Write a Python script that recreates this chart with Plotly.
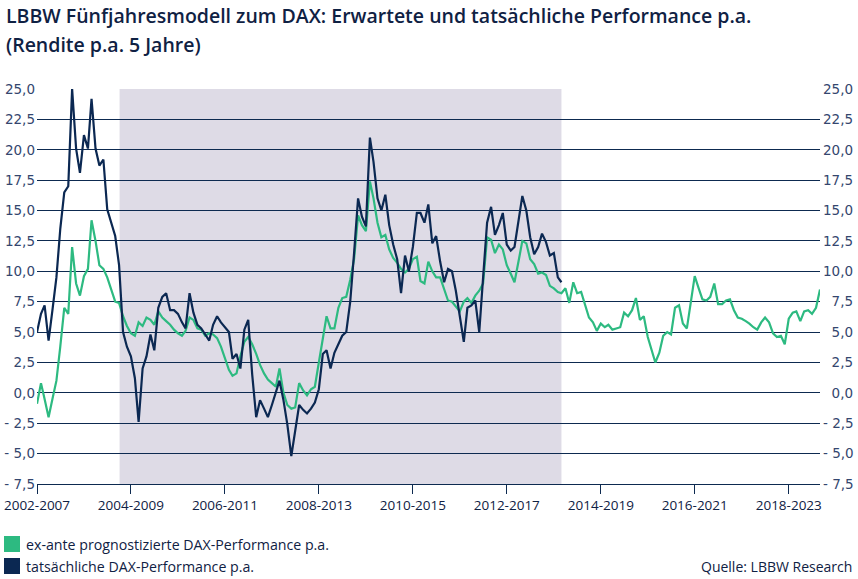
import pandas as pd
import plotly.graph_objects as go

# ---- data (monthly, 5-year window start) ----
START = "2002-01-01"
green_vals = [
    -0.9, 0.8, -0.5, -2.0, -0.5, 1.0, 3.8, 7.0, 6.5, 12.0, 9.0, 8.0,
    9.6, 10.2, 14.2, 12.5, 10.5, 10.2, 9.5, 8.5, 7.5, 7.4, 6.3, 5.5,
    4.9, 4.7, 5.8, 5.5, 6.2, 6.0, 5.6, 6.7, 6.2, 5.9, 5.6, 5.2,
    4.9, 4.7, 5.1, 6.2, 6.0, 5.3, 5.2, 4.7, 4.9, 4.8, 4.5, 3.8,
    2.8, 1.9, 1.4, 1.6, 3.0, 4.2, 4.6, 4.0, 3.2, 2.3, 1.6, 1.1,
    0.8, 0.5, 2.0, 0.0, -1.0, -1.3, -1.2, 0.8, 0.2, -0.2, 0.3, 0.5,
    2.5, 4.4, 6.3, 5.3, 5.3, 7.0, 7.8, 7.9, 9.3, 11.0, 14.6, 13.8,
    13.3, 17.4, 16.0, 14.0, 12.8, 13.0, 11.8, 11.1, 10.7, 10.2, 9.9, 10.2,
    11.0, 11.2, 9.2, 9.0, 10.8, 10.0, 9.5, 9.5, 8.6, 7.6, 7.5, 7.1,
    6.7, 7.5, 7.8, 7.4, 8.0, 8.4, 9.0, 12.8, 12.6, 11.5, 12.2, 11.8,
    10.5, 9.8, 9.1, 10.8, 12.5, 12.3, 11.0, 10.6, 9.8, 9.9, 9.7, 8.8,
    8.6, 8.3, 8.2, 8.6, 7.4, 9.1, 8.2, 8.3, 7.2, 6.2, 5.8, 5.1,
    5.7, 5.4, 5.6, 5.2, 5.3, 5.4, 6.6, 6.3, 6.8, 7.8, 6.0, 6.3,
    4.6, 3.4, 2.5, 3.3, 4.7, 5.0, 4.8, 7.0, 7.2, 5.7, 5.3, 7.4,
    9.6, 8.6, 7.7, 7.6, 7.9, 9.0, 7.3, 7.3, 7.6, 7.7, 6.8, 6.2,
    6.1, 5.9, 5.7, 5.4, 5.2, 5.8, 6.2, 5.8, 4.9, 4.6, 4.7, 4.0,
    6.1, 6.6, 6.7, 5.9, 6.7, 6.8, 6.5, 7.0, 8.5,
]
dark_vals = [
    5.0, 6.5, 7.2, 4.3, 6.8, 9.5, 13.5, 16.5, 17.0, 25.0, 20.1, 18.1,
    21.2, 20.1, 24.2, 20.1, 18.7, 19.2, 15.1, 14.0, 12.9, 10.5, 5.0, 3.8,
    3.0, 1.2, -2.4, 2.0, 3.0, 4.8, 3.5, 7.0, 7.9, 8.2, 6.8, 6.8,
    6.5, 5.8, 5.3, 8.2, 6.6, 5.6, 5.3, 4.8, 4.3, 5.6, 6.3, 5.8,
    5.4, 5.0, 2.8, 3.2, 2.0, 5.2, 6.0, 1.5, -2.0, -0.6, -1.3, -2.0,
    -1.0, 0.0, 1.0, -0.6, -2.6, -5.2, -3.3, -1.0, -1.4, -1.7, -1.3, -0.8,
    0.3, 3.2, 3.5, 2.0, 3.3, 4.0, 4.7, 5.0, 7.5, 11.5, 16.0, 14.5,
    13.7, 21.0, 19.0, 16.0, 15.0, 16.3, 13.8, 12.2, 11.0, 8.2, 11.3, 10.0,
    12.0, 14.8, 14.8, 14.0, 15.5, 12.3, 12.9, 10.8, 9.1, 10.2, 10.0, 8.4,
    6.2, 4.2, 7.0, 7.2, 7.6, 5.0, 9.5, 14.0, 15.3, 13.0, 13.8, 14.8,
    12.2, 11.7, 12.0, 14.3, 16.2, 15.0, 12.8, 11.4, 12.0, 13.1, 12.4, 11.3,
    11.5, 9.5, 9.1,
]
shade_period = ["2003-10-05", "2013-03-01"]
tick_dates = ["2002-01-01", "2004-01-01", "2006-01-01", "2008-01-01", "2010-01-01",
              "2012-01-01", "2014-01-01", "2016-01-01", "2018-01-01"]
tick_labels = ["2002-2007", "2004-2009", "2006-2011", "2008-2013", "2010-2015",
               "2012-2017", "2014-2019", "2016-2021", "2018-2023"]
y_ticks = [-7.5, -5.0, -2.5, 0.0, 2.5, 5.0, 7.5, 10.0, 12.5, 15.0, 17.5, 20.0, 22.5, 25.0]
y_labels = ["- 7,5", "- 5,0", "- 2,5", "0,0", "2,5", "5,0", "7,5", "10,0",
            "12,5", "15,0", "17,5", "20,0", "22,5", "25,0"]
y_labels_right = [("\u2007" + t) if len(t) == 3 else t for t in y_labels]

series_names = ["ex-ante prognostizierte DAX-Performance p.a.", "tatsächliche DAX-Performance p.a."]
title_lines = ["LBBW Fünfjahresmodell zum DAX: Erwartete und tatsächliche Performance p.a.",
               "(Rendite p.a. 5 Jahre)"]
source_text = "Quelle: LBBW Research"

GREEN = "#2dba81"
NAVY = "#0b2852"
SHADE = "#dedbe6"
GRID = "#0d2a50"
LABEL = "#34466e"
TEXT = "#0f2143"

green_dates = pd.date_range(START, periods=len(green_vals), freq="MS")
dark_dates = pd.date_range(START, periods=len(dark_vals), freq="MS")

fig = go.Figure()
fig.add_trace(go.Scatter(x=green_dates, y=green_vals, mode="lines", name=series_names[0],
                         line=dict(color=GREEN, width=2.2), showlegend=False))
fig.add_trace(go.Scatter(x=dark_dates, y=dark_vals, mode="lines", name=series_names[1],
                         line=dict(color=NAVY, width=2.2), showlegend=False))
fig.add_trace(go.Scatter(x=[green_dates[0]], y=[0], yaxis="y2", mode="markers",
                         marker=dict(opacity=0), hoverinfo="skip", showlegend=False))

W, H = 858, 579
L, R, T, B = 37, 38, 89, 95
pw, ph = W - L - R, H - T - B

def px_x(px):
    return (px - L) / pw

def px_y(py):
    return (H - B - py) / ph

fig.add_shape(type="rect", xref="x", yref="y", x0=shade_period[0], x1=shade_period[1],
              y0=-7.5, y1=25, fillcolor=SHADE, line=dict(width=0), layer="below")

yfont = dict(family="DejaVu Sans", size=13.5, color=LABEL)
fig.update_layout(
    width=W, height=H,
    margin=dict(l=L, r=R, t=T, b=B, autoexpand=False),
    paper_bgcolor="white", plot_bgcolor="white",
    xaxis=dict(type="date", range=[green_dates[0], green_dates[-1]],
               tickvals=tick_dates, ticktext=tick_labels, showgrid=False,
               showline=True, linecolor=GRID, linewidth=1,
               ticks="outside", ticklen=9, tickcolor=GRID, tickwidth=1,
               tickfont=dict(family="Open Sans", size=13.5, color=TEXT), zeroline=False,
               automargin=False),
    yaxis=dict(range=[-7.5, 25], tickvals=y_ticks, ticktext=y_labels, showgrid=True,
               gridcolor=GRID, gridwidth=1, zeroline=False, showline=False,
               tickfont=yfont, ticklabelstandoff=1, automargin=False),
    yaxis2=dict(range=[-7.5, 25], tickvals=y_ticks, ticktext=y_labels_right, overlaying="y",
                side="right", showgrid=False, zeroline=False, showline=False,
                tickfont=yfont, ticklabelstandoff=2, automargin=False),
)

fig.add_annotation(xref="paper", yref="paper", x=px_x(4), y=px_y(16), xanchor="left", yanchor="middle",
                   text=title_lines[0], showarrow=False,
                   font=dict(family="Open Sans", size=19.5, color=TEXT, weight=600))
fig.add_annotation(xref="paper", yref="paper", x=px_x(4), y=px_y(44), xanchor="left", yanchor="middle",
                   text=title_lines[1], showarrow=False,
                   font=dict(family="Open Sans", size=19.5, color=TEXT, weight=600))

for name, color, cy in [(series_names[0], GREEN, 544), (series_names[1], NAVY, 566)]:
    fig.add_shape(type="rect", xref="paper", yref="paper", x0=px_x(4), x1=px_x(20),
                  y0=px_y(cy + 8), y1=px_y(cy - 8), fillcolor=color, line=dict(width=0))
    fig.add_annotation(xref="paper", yref="paper", x=px_x(24), y=px_y(cy), xanchor="left",
                       yanchor="middle", text=name, showarrow=False,
                       font=dict(family="Open Sans", size=14.2, color=TEXT))

fig.add_annotation(xref="paper", yref="paper", x=px_x(854), y=px_y(566), xanchor="right",
                   yanchor="middle", text=source_text, showarrow=False,
                   font=dict(family="Open Sans", size=14, color=TEXT))

fig.write_html("out.html", config={"displayModeBar": False},
               post_script="document.body.style.margin='0';")
